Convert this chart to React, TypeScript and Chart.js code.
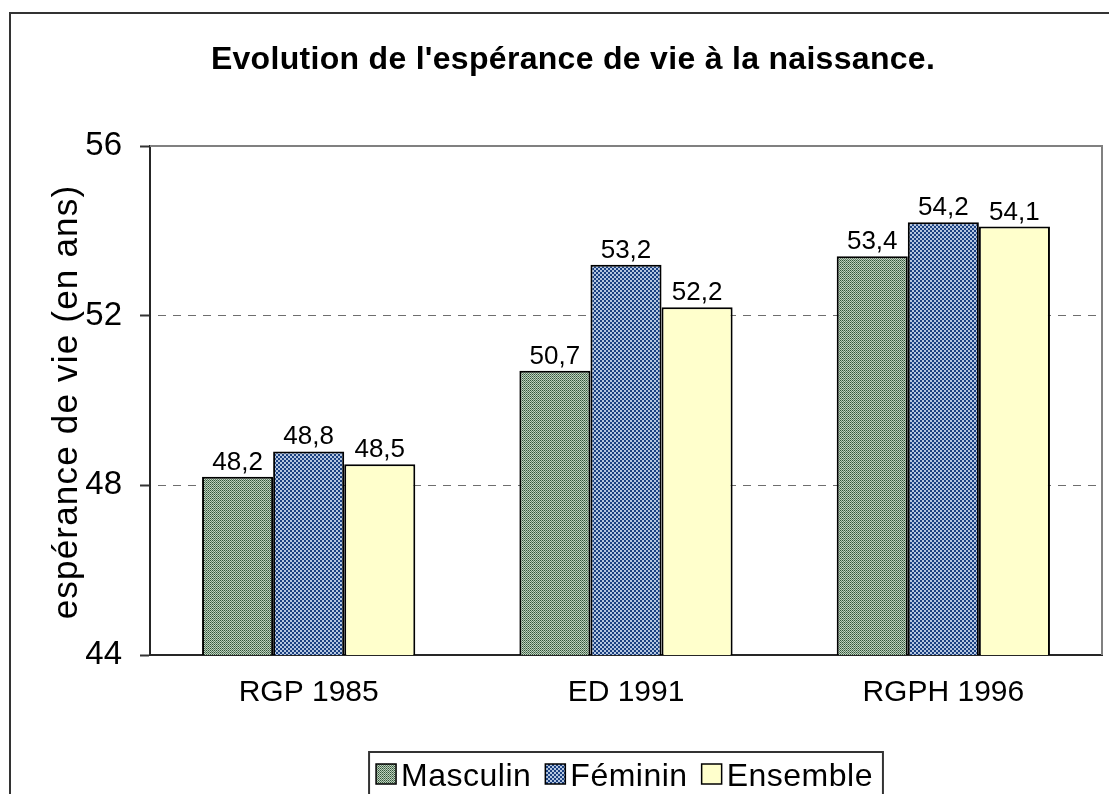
import React, { useEffect, useRef } from 'react';
import { Chart, registerables } from 'chart.js';

Chart.register(...registerables);

const categories = ['RGP 1985', 'ED 1991', 'RGPH 1996'];
const masculin = [48.2, 50.7, 53.4];
const feminin = [48.8, 53.2, 54.2];
const ensemble = [48.5, 52.2, 54.1];
const seriesNames = ['Masculin', 'Féminin', 'Ensemble'];
const yTicks = [44, 48, 52, 56];
const chartTitle = "Evolution de l'espérance de vie à la naissance.";
const yAxisTitle = 'espérance de vie (en ans)';

const FONT = '"Liberation Sans", Arial, Helvetica, sans-serif';

function makePattern(cells: string[][]): CanvasPattern | string {
  const h = cells.length;
  const w = cells[0].length;
  const c = document.createElement('canvas');
  c.width = w;
  c.height = h;
  const x = c.getContext('2d');
  if (!x) return cells[0][0];
  for (let j = 0; j < h; j++) {
    for (let i = 0; i < w; i++) {
      x.fillStyle = cells[j][i];
      x.fillRect(i, j, 1, 1);
    }
  }
  return x.createPattern(c, 'repeat') || cells[0][0];
}

const fmt = (v: number) => v.toFixed(1).replace('.', ',');

export default function App() {
  const ref = useRef<HTMLCanvasElement>(null);

  useEffect(() => {
    document.body.style.margin = '0';
    const canvas = ref.current;
    if (!canvas) return;

    const G1 = '#33553a', G2 = '#b5c9b5', G3 = '#c5d5c5', G4 = '#5f7f64';
    const mascFill = makePattern([
      [G1, G2],
      [G3, G4],
    ]);
    const B = '#1a4080', W = '#b4c6e0';
    const femFill = makePattern([
      [B, B, W, W],
      [B, B, W, W],
      [W, W, B, B],
      [W, W, B, B],
    ]);
    const ensFill = '#ffffcc';
    const fills = [mascFill, femFill, ensFill];
    const values = [masculin, feminin, ensemble];

    const decor = {
      id: 'decor',
      afterDatasetsDraw(chart: any) {
        const ctx = chart.ctx as CanvasRenderingContext2D;
        ctx.save();
        ctx.fillStyle = '#000';
        ctx.font = `26px ${FONT}`;
        ctx.textAlign = 'center';
        ctx.textBaseline = 'alphabetic';
        chart.data.datasets.forEach((ds: any, i: number) => {
          const meta = chart.getDatasetMeta(i);
          meta.data.forEach((bar: any, j: number) => {
            ctx.fillText(fmt(ds.data[j]), bar.x, bar.y - 7);
          });
        });
        ctx.restore();
      },
      afterDraw(chart: any) {
        const ctx = chart.ctx as CanvasRenderingContext2D;
        const a = chart.chartArea;
        ctx.save();
        // plot area top/right border
        ctx.strokeStyle = '#808080';
        ctx.lineWidth = 2;
        ctx.beginPath();
        ctx.moveTo(a.left, a.top);
        ctx.lineTo(a.right, a.top);
        ctx.lineTo(a.right, a.bottom);
        ctx.stroke();

        // outer frame
        ctx.strokeStyle = '#333';
        ctx.lineWidth = 2;
        ctx.strokeRect(10, 13, 1127, 900);

        // title
        ctx.fillStyle = '#000';
        ctx.font = `bold 32px ${FONT}`;
        (ctx as any).letterSpacing = '0.3px';
        ctx.textAlign = 'center';
        ctx.textBaseline = 'alphabetic';
        ctx.fillText(chartTitle, 573, 69);

        // y axis title
        ctx.font = `35px ${FONT}`;
        (ctx as any).letterSpacing = '1.2px';
        ctx.save();
        ctx.translate(77, 402);
        ctx.rotate(-Math.PI / 2);
        ctx.textAlign = 'center';
        ctx.fillText(yAxisTitle, 0, 0);
        ctx.restore();

        // legend
        ctx.font = `32px ${FONT}`;
        (ctx as any).letterSpacing = '0.5px';
        const sq = 20, gapBT = 5, gapItems = 14, padL = 7, padR = 10;
        const widths = seriesNames.map((n) => ctx.measureText(n).width);
        let total = padL + padR + gapItems * (seriesNames.length - 1);
        widths.forEach((w) => (total += sq + gapBT + w));
        const center = (a.left + a.right) / 2;
        const left = center - total / 2;
        const top = 752;
        ctx.strokeStyle = '#333';
        ctx.lineWidth = 2;
        ctx.strokeRect(left, top, total, 100);
        let x = left + padL;
        ctx.textAlign = 'left';
        seriesNames.forEach((n, i) => {
          ctx.fillStyle = fills[i] as any;
          ctx.fillRect(x, 764, sq, sq);
          ctx.strokeStyle = '#000';
          ctx.lineWidth = 1.5;
          ctx.strokeRect(x, 764, sq, sq);
          ctx.fillStyle = '#000';
          ctx.fillText(n, x + sq + gapBT, 786);
          x += sq + gapBT + widths[i] + gapItems;
        });
        ctx.restore();
      },
    };

    const chart = new Chart(canvas, {
      type: 'bar',
      data: {
        labels: categories,
        datasets: seriesNames.map((name, i) => ({
          label: name,
          data: values[i],
          backgroundColor: fills[i] as any,
          borderColor: '#000',
          borderWidth: 2,
          categoryPercentage: 0.672,
          barPercentage: 1,
        })),
      },
      options: {
        responsive: false,
        animation: false,
        layout: { padding: { top: 146, right: 7, bottom: 0, left: 0 } },
        plugins: {
          legend: { display: false },
          title: { display: false },
          tooltip: { enabled: false },
        },
        scales: {
          x: {
            grid: { display: false },
            border: { display: true, color: '#262626', width: 2 },
            ticks: {
              color: '#000',
              font: { family: FONT, size: 30 },
              padding: 12,
            },
            afterFit: (s: any) => {
              s.height = 139;
            },
          },
          y: {
            min: 44,
            max: 56,
            afterBuildTicks: (s: any) => {
              s.ticks = yTicks.map((v) => ({ value: v }));
            },
            grid: {
              color: (c: any) =>
                c.index === 0 || c.index === yTicks.length - 1 ? 'rgba(0,0,0,0)' : '#6e6e6e',
              lineWidth: 1,
              drawTicks: true,
              tickLength: 10,
              tickWidth: 2,
              tickColor: '#333',
            },
            border: { display: true, color: '#262626', width: 2, dash: [8, 7], dashOffset: 8 },
            ticks: {
              color: '#000',
              font: { family: FONT, size: 33 },
              padding: 18,
            },
            afterFit: (s: any) => {
              s.width = 150;
            },
          },
        },
      },
      plugins: [decor],
    });

    return () => chart.destroy();
  }, []);

  return (
    <div style={{ width: 1109, height: 794, overflow: 'hidden', background: '#fff' }}>
      <canvas ref={ref} width={1109} height={794} style={{ display: 'block' }} />
    </div>
  );
}
